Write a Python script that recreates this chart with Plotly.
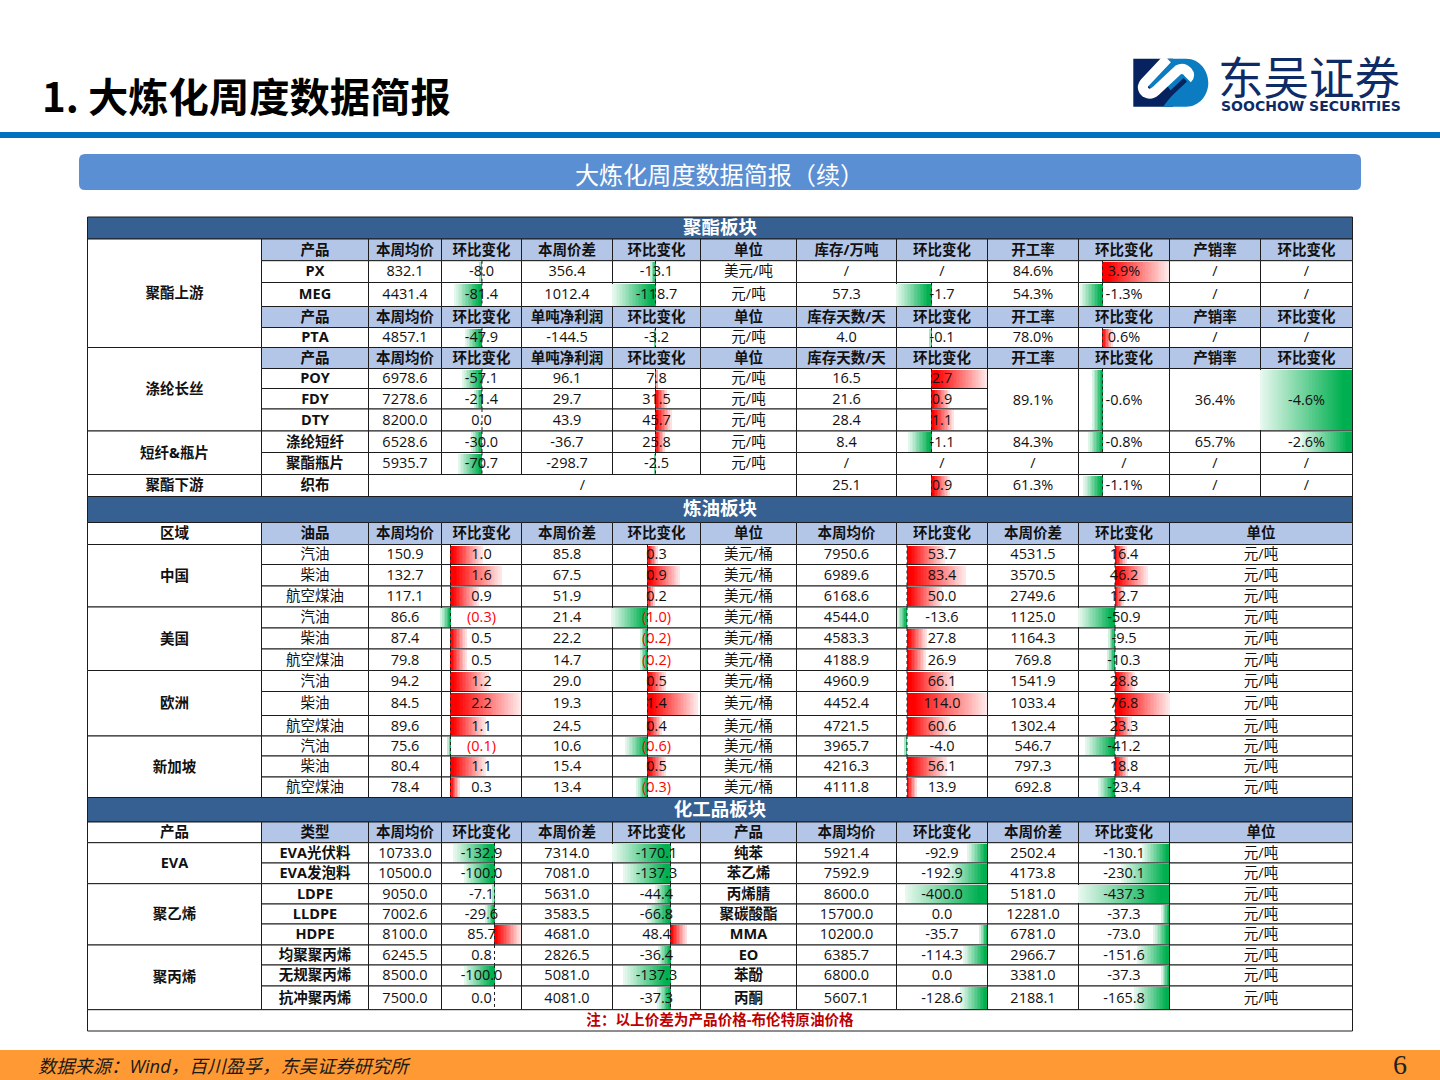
import math
import plotly.graph_objects as go

# ---- 聚酯板块 ----
POLY_GROUPS = ["聚酯上游", "涤纶长丝", "短纤&瓶片", "聚酯下游"]
POLY_HEAD_A = ["产品", "本周均价", "环比变化", "本周价差", "环比变化", "单位", "库存/万吨", "环比变化", "开工率", "环比变化", "产销率", "环比变化"]
POLY_HEAD_B = ["产品", "本周均价", "环比变化", "单吨净利润", "环比变化", "单位", "库存天数/天", "环比变化", "开工率", "环比变化", "产销率", "环比变化"]
poly_products = ["PX", "MEG", "PTA", "POY", "FDY", "DTY", "涤纶短纤", "聚酯瓶片", "织布"]
poly_price = [832.1, 4431.4, 4857.1, 6978.6, 7278.6, 8200.0, 6528.6, 5935.7, None]
poly_price_chg = [-8.0, -81.4, -47.9, -57.1, -21.4, 0.0, -30.0, -70.7, None]
poly_spread = [356.4, 1012.4, -144.5, 96.1, 29.7, 43.9, -36.7, -298.7, None]
poly_spread_chg = [-13.1, -118.7, -3.2, 7.8, 31.5, 45.7, 25.8, -2.5, None]
poly_unit = ["美元/吨", "元/吨", "元/吨", "元/吨", "元/吨", "元/吨", "元/吨", "元/吨", ""]
poly_stock = [None, 57.3, 4.0, 16.5, 21.6, 28.4, 8.4, None, 25.1]
poly_stock_chg = [None, -1.7, -0.1, 2.7, 0.9, 1.1, -1.1, None, 0.9]
# 涤纶长丝三行的开工率、产销率是合并单元格
poly_rate = [84.6, 54.3, 78.0, 89.1, 84.3, None, 61.3]
poly_rate_chg = [3.9, -1.3, 0.6, -0.6, -0.8, None, -1.1]
poly_sale = [None, None, None, 36.4, 65.7, None, None]
poly_sale_chg = [None, None, None, -4.6, -2.6, None, None]

# ---- 炼油板块 ----
OIL_REGIONS = ["中国", "美国", "欧洲", "新加坡"]
OIL_HEAD = ["油品", "本周均价", "环比变化", "本周价差", "环比变化", "单位", "本周均价", "环比变化", "本周价差", "环比变化", "单位"]
oil_names = ["汽油", "柴油", "航空煤油"] * 4
oil_usd_price = [150.9, 132.7, 117.1, 86.6, 87.4, 79.8, 94.2, 84.5, 89.6, 75.6, 80.4, 78.4]
oil_usd_chg = [1.0, 1.6, 0.9, -0.3, 0.5, 0.5, 1.2, 2.2, 1.1, -0.1, 1.1, 0.3]
oil_usd_spread = [85.8, 67.5, 51.9, 21.4, 22.2, 14.7, 29.0, 19.3, 24.5, 10.6, 15.4, 13.4]
oil_usd_spread_chg = [0.3, 0.9, 0.2, -1.0, -0.2, -0.2, 0.5, 1.4, 0.4, -0.6, 0.5, -0.3]
oil_cny_price = [7950.6, 6989.6, 6168.6, 4544.0, 4583.3, 4188.9, 4960.9, 4452.4, 4721.5, 3965.7, 4216.3, 4111.8]
oil_cny_chg = [53.7, 83.4, 50.0, -13.6, 27.8, 26.9, 66.1, 114.0, 60.6, -4.0, 56.1, 13.9]
oil_cny_spread = [4531.5, 3570.5, 2749.6, 1125.0, 1164.3, 769.8, 1541.9, 1033.4, 1302.4, 546.7, 797.3, 692.8]
oil_cny_spread_chg = [16.4, 46.2, 12.7, -50.9, -9.5, -10.3, 28.8, 76.8, 23.3, -41.2, 18.8, -23.4]

# ---- 化工品板块 ----
CHEM_GROUPS = ["EVA", "聚乙烯", "聚丙烯"]
CHEM_HEAD = ["类型", "本周均价", "环比变化", "本周价差", "环比变化", "产品", "本周均价", "环比变化", "本周价差", "环比变化", "单位"]
chem_types = ["EVA光伏料", "EVA发泡料", "LDPE", "LLDPE", "HDPE", "均聚聚丙烯", "无规聚丙烯", "抗冲聚丙烯"]
chem_price = [10733.0, 10500.0, 9050.0, 7002.6, 8100.0, 6245.5, 8500.0, 7500.0]
chem_chg = [-132.9, -100.0, -7.1, -29.6, 85.7, 0.8, -100.0, 0.0]
chem_spread = [7314.0, 7081.0, 5631.0, 3583.5, 4681.0, 2826.5, 5081.0, 4081.0]
chem_spread_chg = [-170.1, -137.3, -44.4, -66.8, 48.4, -36.4, -137.3, -37.3]
chem2_names = ["纯苯", "苯乙烯", "丙烯腈", "聚碳酸酯", "MMA", "EO", "苯酚", "丙酮"]
chem2_price = [5921.4, 7592.9, 8600.0, 15700.0, 10200.0, 6385.7, 6800.0, 5607.1]
chem2_chg = [-92.9, -192.9, -400.0, 0.0, -35.7, -114.3, 0.0, -128.6]
chem2_spread = [2502.4, 4173.8, 5181.0, 12281.0, 6781.0, 2966.7, 3381.0, 2188.1]
chem2_spread_chg = [-130.1, -230.1, -437.3, -37.3, -73.0, -151.6, -37.3, -165.8]

PAGE_TITLE = "1. 大炼化周度数据简报"
BANNER_TITLE = "大炼化周度数据简报（续）"
NOTE = "注：以上价差为产品价格-布伦特原油价格"
SOURCE = "数据来源：Wind，百川盈孚，东吴证券研究所"

# 表格网格（页面像素）
COL_X = [87.5, 261.5, 368.5, 441.5, 521.5, 612.5, 700.5, 796.5, 896.5, 987.5, 1078.5, 1169.5, 1260.5, 1352.5]
ROW_Y = [217, 239, 260.7, 282.5, 306.5, 327.5, 347.5, 368.5, 388.5, 409, 431, 452.5, 474.5, 496.5,
         522.5, 544.5, 564.5, 586, 607, 628, 649, 670.5, 691.5, 715.5, 736, 756, 777, 797.5,
         822, 842.7, 863, 883.7, 904, 924, 945, 965, 986, 1009.7, 1031]

NAVY = "#376092"
HEAD = "#B4C6E7"
FONT = "Open Sans, Noto Sans CJK SC, sans-serif"
CJK = "Noto Sans CJK SC, sans-serif"
SIZE = 14.5

shapes = []
texts = {}
bars = {"base": [], "x": [], "y": [], "width": [], "color": []}


def put(x, y, text, bold=False, size=SIZE, color="#111111"):
    b = texts.setdefault((bold, size, color), ([], [], []))
    b[0].append(x)
    b[1].append(y)
    b[2].append(text)


def cell(r0, r1, c0, c1, text="", bold=False, fill="white", color="#111111", size=SIZE):
    # r1、c1 是结束边的下标
    shapes.append(dict(type="rect", x0=COL_X[c0], x1=COL_X[c1], y0=ROW_Y[r0], y1=ROW_Y[r1],
                       fillcolor=fill, line=dict(color="#1c1c1c", width=1), layer="below"))
    if text != "":
        put((COL_X[c0] + COL_X[c1]) / 2, (ROW_Y[r0] + ROW_Y[r1]) / 2 + 1.2, text, bold, size, color)


def fmt(v, suffix=""):
    return "/" if v is None else f"{v:.1f}{suffix}"


def paren(v):
    return f"({abs(v):.1f})" if v < 0 else f"{v:.1f}"


def header(r, names, c0=1, last_wide=False):
    for i, n in enumerate(names):
        c = c0 + i
        if last_wide and i == len(names) - 1:
            cell(r, r + 1, c, 13, n, True, HEAD)
        else:
            cell(r, r + 1, c, c + 1, n, True, HEAD)


def mix(rgb, a):
    return "rgb(%d,%d,%d)" % tuple(round(255 + (v - 255) * a) for v in rgb)


def data_bar(value, r0, r1, axis, scale, dotted=True):
    # 渐变数据条：从坐标轴向外逐段变浅
    if value is None:
        return
    top, bot = ROW_Y[r0], ROW_Y[r1]
    if dotted:
        shapes.append(dict(type="line", x0=axis, x1=axis, y0=top, y1=bot, layer="above",
                           line=dict(color="#222222", width=1, dash="dot")))
    width = abs(value) * scale
    if width < 0.3:
        return
    rgb = (255, 0, 0) if value > 0 else (0, 176, 80)
    sign = 1 if value > 0 else -1
    n = max(1, math.ceil(width / 1.5))
    for i in range(n):
        t = (i + 0.5) / n
        a = 1.0 if t < 0.1 else 1.0 - (t - 0.1) / 0.9 * 0.92
        x0 = axis + sign * width * i / n
        x1 = axis + sign * width * (i + 1) / n
        bars["base"].append(min(x0, x1))
        bars["x"].append(abs(x1 - x0))
        bars["y"].append((top + bot) / 2)
        bars["width"].append(bot - top - 2)
        bars["color"].append(mix(rgb, a))


# ---- 聚酯板块 ----
cell(0, 1, 0, 13, "聚酯板块", True, NAVY, "white", 18.5)
cell(1, 6, 0, 1, POLY_GROUPS[0], True)
cell(6, 10, 0, 1, POLY_GROUPS[1], True)
cell(10, 12, 0, 1, POLY_GROUPS[2], True)
cell(12, 13, 0, 1, POLY_GROUPS[3], True)
header(1, POLY_HEAD_A)
header(4, POLY_HEAD_B)
header(6, POLY_HEAD_B)
poly_rows = [2, 3, 5, 7, 8, 9, 10, 11, 12]
for i, r in enumerate(poly_rows):
    cell(r, r + 1, 1, 2, poly_products[i], True)
    if poly_price[i] is None:
        cell(r, r + 1, 2, 7, "/")
    else:
        cell(r, r + 1, 2, 3, fmt(poly_price[i]))
        cell(r, r + 1, 3, 4, fmt(poly_price_chg[i]))
        cell(r, r + 1, 4, 5, fmt(poly_spread[i]))
        cell(r, r + 1, 5, 6, fmt(poly_spread_chg[i]))
        cell(r, r + 1, 6, 7, poly_unit[i])
    cell(r, r + 1, 7, 8, fmt(poly_stock[i]))
    cell(r, r + 1, 8, 9, fmt(poly_stock_chg[i]))
    data_bar(poly_price_chg[i], r, r + 1, 482, 0.335)
    data_bar(poly_spread_chg[i], r, r + 1, 655.5, 0.36)
    data_bar(poly_stock_chg[i], r, r + 1, 931.5, 20.6)

rate_spans = [(2, 3), (3, 4), (5, 6), (7, 10), (10, 11), (11, 12), (12, 13)]
for i, (r0, r1) in enumerate(rate_spans):
    cell(r0, r1, 9, 10, fmt(poly_rate[i], "%"))
    cell(r0, r1, 10, 11, fmt(poly_rate_chg[i], "%"))
    cell(r0, r1, 11, 12, fmt(poly_sale[i], "%"))
    cell(r0, r1, 12, 13, fmt(poly_sale_chg[i], "%"))
    data_bar(poly_rate_chg[i], r0, r1, 1102.5, 17)
    data_bar(poly_sale_chg[i], r0, r1, 1352, 20, dotted=False)

# ---- 炼油板块 ----
cell(13, 14, 0, 13, "炼油板块", True, NAVY, "white", 18.5)
cell(14, 15, 0, 1, "区域", True)
header(14, OIL_HEAD, last_wide=True)
for i, name in enumerate(OIL_REGIONS):
    cell(15 + i * 3, 18 + i * 3, 0, 1, name, True)
for i in range(12):
    r = 15 + i
    cell(r, r + 1, 1, 2, oil_names[i])
    cell(r, r + 1, 2, 3, fmt(oil_usd_price[i]))
    cell(r, r + 1, 3, 4, paren(oil_usd_chg[i]), color="#FF0000" if oil_usd_chg[i] < 0 else "#111111")
    cell(r, r + 1, 4, 5, fmt(oil_usd_spread[i]))
    cell(r, r + 1, 5, 6, paren(oil_usd_spread_chg[i]), color="#FF0000" if oil_usd_spread_chg[i] < 0 else "#111111")
    cell(r, r + 1, 6, 7, "美元/桶")
    cell(r, r + 1, 7, 8, fmt(oil_cny_price[i]))
    cell(r, r + 1, 8, 9, fmt(oil_cny_chg[i]))
    cell(r, r + 1, 9, 10, fmt(oil_cny_spread[i]))
    cell(r, r + 1, 10, 11, fmt(oil_cny_spread_chg[i]))
    cell(r, r + 1, 11, 13, "元/吨")
    data_bar(oil_usd_chg[i], r, r + 1, 450.5, 32)
    data_bar(oil_usd_spread_chg[i], r, r + 1, 647.5, 36)
    data_bar(oil_cny_chg[i], r, r + 1, 907, 0.705)
    data_bar(oil_cny_spread_chg[i], r, r + 1, 1115, 0.71)

# ---- 化工品板块 ----
cell(27, 28, 0, 13, "化工品板块", True, NAVY, "white", 18.5)
cell(28, 29, 0, 1, "产品", True)
header(28, CHEM_HEAD, last_wide=True)
cell(29, 31, 0, 1, CHEM_GROUPS[0], True)
cell(31, 34, 0, 1, CHEM_GROUPS[1], True)
cell(34, 37, 0, 1, CHEM_GROUPS[2], True)
for i in range(8):
    r = 29 + i
    cell(r, r + 1, 1, 2, chem_types[i], True)
    cell(r, r + 1, 2, 3, fmt(chem_price[i]))
    cell(r, r + 1, 3, 4, fmt(chem_chg[i]))
    cell(r, r + 1, 4, 5, fmt(chem_spread[i]))
    cell(r, r + 1, 5, 6, fmt(chem_spread_chg[i]))
    cell(r, r + 1, 6, 7, chem2_names[i], True)
    cell(r, r + 1, 7, 8, fmt(chem2_price[i]))
    cell(r, r + 1, 8, 9, fmt(chem2_chg[i]))
    cell(r, r + 1, 9, 10, fmt(chem2_spread[i]))
    cell(r, r + 1, 10, 11, fmt(chem2_spread_chg[i]))
    cell(r, r + 1, 11, 13, "元/吨")
    data_bar(chem_chg[i], r, r + 1, 494.5, 0.305)
    data_bar(chem_spread_chg[i], r, r + 1, 670.5, 0.34)
    data_bar(chem2_chg[i], r, r + 1, 987, 0.205, dotted=False)
    data_bar(chem2_spread_chg[i], r, r + 1, 1169, 0.207, dotted=False)
cell(37, 38, 0, 13, NOTE, True, "white", "#C00000", 14.6)

# ---- 页面装饰 ----
shapes.append(dict(type="rect", x0=0, x1=1440, y0=132, y1=138, fillcolor="#0070C0", line_width=0, layer="below"))
shapes.append(dict(type="path", layer="below", fillcolor="#5B8FD3", line_width=0,
                   path="M85,154 L1355,154 Q1361,154 1361,160 L1361,184 Q1361,190 1355,190 L85,190 Q79,190 79,184 L79,160 Q79,154 85,154 Z"))
shapes.append(dict(type="rect", x0=0, x1=1440, y0=1050, y1=1080, fillcolor="#FF9933", line_width=0, layer="below"))


def lg(points):
    # 标志草图的坐标以 3 倍放大图为基准
    out = []
    for p in points:
        if isinstance(p, str):
            out.append(p)
        else:
            out.append(f"{1128 + p[0] / 3:.1f},{54 + p[1] / 3:.1f}")
    return " ".join(out)


LOGO_DARK = "#06235F"
LOGO_BLUE = "#0B7CC1"
shapes.append(dict(type="path", layer="below", fillcolor=LOGO_DARK, line_width=0,
                   path=lg(["M", (16, 14), "L", (135, 14), "L", (135, 158), "L", (16, 158), "Z"])))
shapes.append(dict(type="path", layer="below", fillcolor=LOGO_BLUE, line_width=0,
                   path=lg(["M", (120, 14), "L", (175, 14), "C", (215, 14), (241, 50), (241, 86),
                            "C", (241, 125), (212, 158), (175, 158), "L", (105, 158), "L", (135, 120),
                            "L", (100, 70), "Z"])))
shapes.append(dict(type="path", layer="below", fillcolor="rgba(0,0,0,0)", line=dict(color=LOGO_BLUE, width=6),
                   path=lg(["M", (65, 100), "L", (135, 32)])))
shapes.append(dict(type="path", layer="below", fillcolor="rgba(0,0,0,0)", line=dict(color=LOGO_DARK, width=5),
                   path=lg(["M", (98, 147), "L", (172, 77)])))
shapes.append(dict(type="path", layer="below", fillcolor="rgba(0,0,0,0)", line=dict(color="white", width=10),
                   path=lg(["M", (118, 14), "L", (52, 84), "Q", (36, 102), (54, 116), "Q", (68, 124), (82, 112),
                            "L", (150, 48), "Q", (165, 40), (178, 52), "Q", (188, 64), (178, 74)])))

annotations = [
    dict(x=40, y=94, text=PAGE_TITLE, xanchor="left", font=dict(family=CJK, size=40.3, color="#000000", weight="bold")),
    dict(x=573, y=173, text=BANNER_TITLE, xanchor="left", font=dict(family=CJK, size=24.1, color="white")),
    dict(x=1216, y=75, text="东吴证券", xanchor="left", font=dict(family=CJK, size=45.5, color="#0F2B66")),
    dict(x=1219, y=105.5, text="SOOCHOW SECURITIES", xanchor="left", font=dict(family="DejaVu Sans", size=14, color="#0F2B66", weight="bold")),
    dict(x=36, y=1065, text=SOURCE, xanchor="left", font=dict(family="Open Sans, Noto Sans CJK SC", size=18.3, color="#1a1a1a", style="italic")),
    dict(x=1400, y=1064, text="6", font=dict(family="Liberation Serif", size=28, color="#222222")),
]
for a in annotations:
    a.update(xref="x", yref="y", showarrow=False, yanchor="middle")
    a.setdefault("xanchor", "center")

fig = go.Figure()
fig.add_trace(go.Bar(base=bars["base"], x=bars["x"], y=bars["y"], width=bars["width"], orientation="h",
                     marker=dict(color=bars["color"], line_width=0), hoverinfo="skip", showlegend=False))
for (bold, size, color), (xs, ys, ts) in texts.items():
    fig.add_trace(go.Scatter(x=xs, y=ys, text=ts, mode="text", textposition="middle center", hoverinfo="skip",
                             showlegend=False,
                             textfont=dict(family=FONT, size=size, color=color, weight="bold" if bold else "normal")))

fig.update_layout(
    width=1440, height=1080, autosize=False, margin=dict(l=0, r=0, t=0, b=0),
    paper_bgcolor="white", plot_bgcolor="white", barmode="overlay", bargap=0,
    xaxis=dict(range=[0, 1440], visible=False, fixedrange=True),
    yaxis=dict(range=[1080, 0], visible=False, fixedrange=True),
    shapes=shapes, annotations=annotations,
)

fig.write_html("out.html", post_script="document.body.style.margin='0';", config={"displayModeBar": False})
